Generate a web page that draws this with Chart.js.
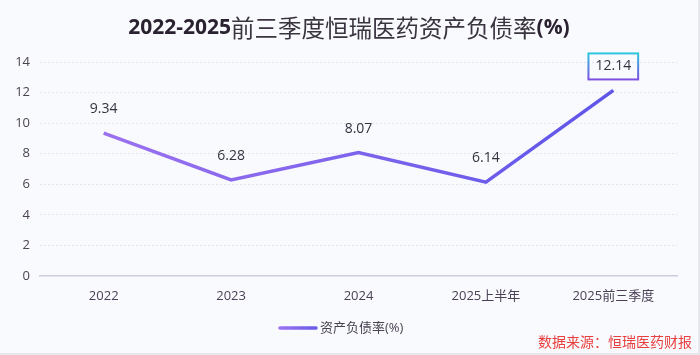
<!DOCTYPE html>
<html>
<head>
<meta charset="utf-8">
<script src="https://cdn.jsdelivr.net/npm/chart.js@4.4.1/dist/chart.umd.min.js"></script>
<style>
html,body{margin:0;padding:0;background:#f9fafd;}
#wrap{position:relative;width:700px;height:355px;}
#c{position:absolute;left:0;top:0;}
#frame{position:absolute;left:0;top:0;width:700px;height:355px;box-sizing:border-box;border-right:2px solid #e6e8ee;border-bottom:2px solid #e6e8ee;pointer-events:none;}
</style>
</head>
<body>
<div id="wrap"><canvas id="c" width="700" height="355"></canvas><div id="frame"></div></div>
<script>
const categories = ['2022', '2023', '2024', '2025上半年', '2025前三季度'];
const debtRatio = [9.34, 6.28, 8.07, 6.14, 12.14];
const yTicks = [0, 2, 4, 6, 8, 10, 12, 14];
const titleParts = [
  { text: '2022-2025', bold: true },
  { text: '前三季度恒瑞医药资产负债率', bold: false },
  { text: '(%)', bold: true }
];
const seriesName = '资产负债率(%)';
const sourceText = '数据来源：恒瑞医药财报';

const FONT = '"Open Sans", "Noto Sans CJK SC", sans-serif';

function lineGradient(ctx) {
  const chart = ctx.chart;
  const area = chart.chartArea;
  if (!area) return '#7b62ec';
  const g = chart.ctx.createLinearGradient(area.left, 0, area.right, 0);
  g.addColorStop(0, '#a374f0');
  g.addColorStop(1, '#5652e8');
  return g;
}

const decor = {
  id: 'decor',
  afterDatasetsDraw(chart) {
    const ctx = chart.ctx;
    const meta = chart.getDatasetMeta(0);
    ctx.save();
    ctx.font = '14px ' + FONT;
    ctx.fillStyle = '#333340';
    ctx.textAlign = 'center';
    ctx.textBaseline = 'middle';
    meta.data.forEach((pt, i) => {
      const txt = debtRatio[i].toFixed(2);
      const x = pt.x, y = pt.y - 24;
      if (i === debtRatio.length - 1) {
        const w = ctx.measureText(txt).width + 14, h = 26;
        const g = ctx.createLinearGradient(0, y - h / 2, 0, y + h / 2);
        g.addColorStop(0, '#2cc6e0');
        g.addColorStop(1, '#7b4fe0');
        ctx.strokeStyle = g;
        ctx.lineWidth = 2;
        ctx.strokeRect(x - w / 2, y - h / 2, w, h);
      }
      ctx.fillText(txt, x, y);
    });
    ctx.restore();
  },
  afterDraw(chart) {
    const ctx = chart.ctx;
    ctx.save();
    // title (mixed weights)
    ctx.textBaseline = 'middle';
    ctx.textAlign = 'left';
    const fonts = titleParts.map(p => p.bold ? 'bold 21px ' + FONT : '23.5px "Noto Sans CJK SC", sans-serif');
    let total = 0;
    const widths = titleParts.map((p, i) => { ctx.font = fonts[i]; const w = ctx.measureText(p.text).width; total += w; return w; });
    let tx = 349 - total / 2;
    titleParts.forEach((p, i) => {
      ctx.font = fonts[i];
      ctx.fillStyle = p.bold ? '#2a2230' : '#3a3440';
      ctx.fillText(p.text, tx, 28);
      tx += widths[i];
    });
    // legend
    const lx = 280, ly = 328;
    const lg = ctx.createLinearGradient(lx, 0, lx + 36, 0);
    lg.addColorStop(0, '#9a72ee');
    lg.addColorStop(1, '#6a5ce8');
    ctx.strokeStyle = lg;
    ctx.lineWidth = 3.5;
    ctx.lineCap = 'round';
    ctx.beginPath();
    ctx.moveTo(lx, ly);
    ctx.lineTo(lx + 36, ly);
    ctx.stroke();
    ctx.font = '13px ' + FONT;
    ctx.fillStyle = '#4a4452';
    ctx.textAlign = 'left';
    ctx.fillText(seriesName, lx + 40, ly);
    // source
    ctx.font = '14px "Noto Sans CJK SC", sans-serif';
    ctx.fillStyle = '#e8403f';
    ctx.textAlign = 'right';
    ctx.fillText(sourceText, 692, 342);
    ctx.restore();
  }
};

new Chart(document.getElementById('c'), {
  type: 'line',
  data: {
    labels: categories,
    datasets: [{
      label: seriesName,
      data: debtRatio,
      borderColor: lineGradient,
      borderWidth: 3.5,
      pointRadius: 0,
      pointHoverRadius: 0,
      tension: 0,
      fill: false
    }]
  },
  options: {
    responsive: false,
    maintainAspectRatio: false,
    animation: false,
    devicePixelRatio: 1,
    layout: { padding: { top: 62, right: 23, bottom: 0, left: 0 } },
    plugins: {
      legend: { display: false },
      title: { display: false },
      tooltip: { enabled: false }
    },
    scales: {
      x: {
        offset: true,
        grid: { display: false, drawTicks: false },
        border: { display: true, color: '#c9ced8', width: 1.5 },
        ticks: { color: '#4a3f55', font: { size: 13, family: FONT }, padding: 12, maxRotation: 0 },
        afterFit(scale) { scale.height = 79; }
      },
      y: {
        min: 0,
        max: 14,
        afterBuildTicks(scale) { scale.ticks = yTicks.map(v => ({ value: v })); },
        grid: {
          color: ctx => ctx.tick && ctx.tick.value === 0 ? 'rgba(0,0,0,0)' : '#e1e4ec',
          drawTicks: false,
          lineWidth: 1
        },
        border: { display: false, dash: [2, 2] },
        ticks: { color: '#4a4452', font: { size: 13, family: FONT }, padding: 10 },
        afterFit(scale) { scale.width = 40; }
      }
    }
  },
  plugins: [decor]
});
</script>
</body>
</html>
